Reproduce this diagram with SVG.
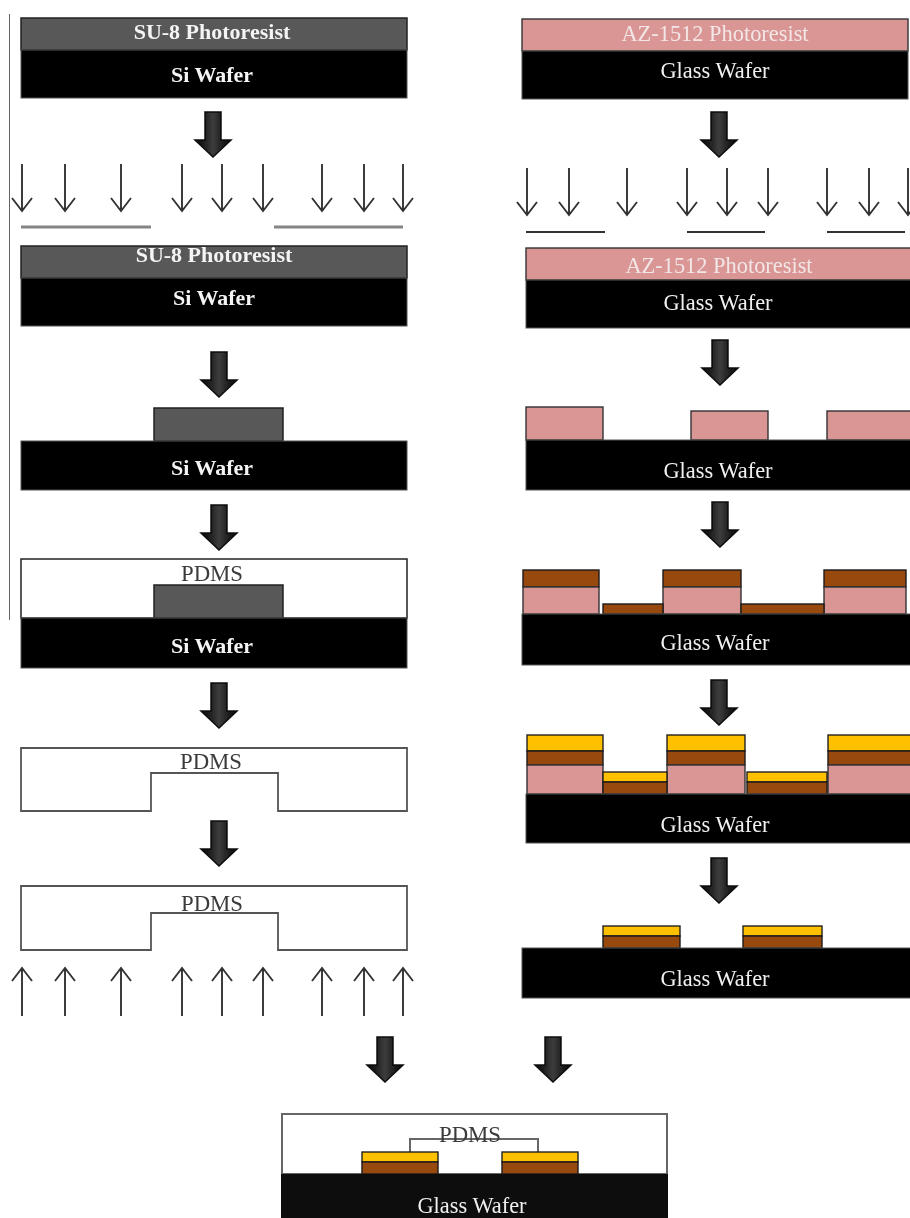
<svg xmlns="http://www.w3.org/2000/svg" xmlns:xlink="http://www.w3.org/1999/xlink" width="910" height="1218" viewBox="0 0 910 1218">
<style>
text{font-family:"Liberation Serif","Times New Roman",serif;font-size:22.4px;text-anchor:middle}
.w{fill:#f4f4f4;font-weight:bold;font-size:22px}
.g{fill:#f0f0f0}
.p{fill:#f2e6e6}
.d{fill:#3a3a3a;font-size:22.8px}
.wafer{fill:#000;stroke:#555;stroke-width:1}
.su8{fill:#595959;stroke:#222;stroke-width:1.5}
.pink{fill:#d99694;stroke:#333;stroke-width:1.4}
.brown{fill:#984807;stroke:#1a1a1a;stroke-width:1.4}
.gold{fill:#ffc000;stroke:#222;stroke-width:1.4}
.pdms{fill:#fff;stroke:#555;stroke-width:1.8}
.mask1{stroke:#858585;stroke-width:3;fill:none}
.mask2{stroke:#333;stroke-width:2;fill:none}
.thin{stroke:#333;stroke-width:1.9;fill:none}
</style>
<defs>
<filter id="soft" x="0" y="0" width="100%" height="100%"><feGaussianBlur stdDeviation="0.5"/></filter>
<linearGradient id="bar" x1="0" x2="1" y1="0" y2="0"><stop offset="0" stop-color="#050505"/><stop offset="0.5" stop-color="#3c3c3c"/><stop offset="1" stop-color="#050505"/></linearGradient>
<path id="big" d="M-8,0H8V28H18L0,45L-18,28H-8Z" fill="url(#bar)" stroke="#0a0a0a" stroke-width="1.5"/>
<path id="dn" class="thin" d="M0,0V47M-10,34L0,47L10,34"/>
<path id="up" class="thin" d="M0,0V-48M-10,-35L0,-48L10,-35"/>
</defs>
<rect width="910" height="1218" fill="#fff"/>
<g filter="url(#soft)">
<path d="M9,14V620" stroke="#333" stroke-width="1.5" fill="none"/>

<g id="connectors">
<use xlink:href="#big" href="#big" x="213" y="112"/>
<use xlink:href="#big" href="#big" x="219" y="352"/>
<use xlink:href="#big" href="#big" x="219" y="505"/>
<use xlink:href="#big" href="#big" x="219" y="683"/>
<use xlink:href="#big" href="#big" x="219" y="821"/>
<use xlink:href="#big" href="#big" x="719" y="112"/>
<use xlink:href="#big" href="#big" x="720" y="340"/>
<use xlink:href="#big" href="#big" x="720" y="502"/>
<use xlink:href="#big" href="#big" x="719" y="680"/>
<use xlink:href="#big" href="#big" x="719" y="858"/>
<use xlink:href="#big" href="#big" x="385" y="1037"/>
<use xlink:href="#big" href="#big" x="553" y="1037"/>
</g>

<g id="uv-left-top">
<use href="#dn" x="22" y="164"/><use href="#dn" x="65" y="164"/><use href="#dn" x="121" y="164"/>
<use href="#dn" x="182" y="164"/><use href="#dn" x="222" y="164"/><use href="#dn" x="263" y="164"/>
<use href="#dn" x="322" y="164"/><use href="#dn" x="364" y="164"/><use href="#dn" x="403" y="164"/>
<path class="mask1" d="M21,227H151M274,227H403"/>
</g>
<g id="uv-right-top">
<use href="#dn" x="527" y="168"/><use href="#dn" x="569" y="168"/><use href="#dn" x="627" y="168"/>
<use href="#dn" x="687" y="168"/><use href="#dn" x="727" y="168"/><use href="#dn" x="768" y="168"/>
<use href="#dn" x="827" y="168"/><use href="#dn" x="869" y="168"/><use href="#dn" x="908" y="168"/>
<path class="mask2" d="M526,232H605M687,232H765M827,232H905"/>
</g>
<g id="uv-left-bottom">
<use href="#up" x="22" y="1016"/><use href="#up" x="65" y="1016"/><use href="#up" x="121" y="1016"/>
<use href="#up" x="182" y="1016"/><use href="#up" x="222" y="1016"/><use href="#up" x="263" y="1016"/>
<use href="#up" x="322" y="1016"/><use href="#up" x="364" y="1016"/><use href="#up" x="403" y="1016"/>
</g>

<g id="L1">
<rect class="su8" x="21" y="18" width="386" height="32"/>
<rect class="wafer" x="21" y="50" width="386" height="48"/>
<text class="w" x="212" y="39">SU-8 Photoresist</text>
<text class="w" x="212" y="82">Si Wafer</text>
</g>
<g id="L2">
<rect class="su8" x="21" y="246" width="386" height="32"/>
<rect class="wafer" x="21" y="278" width="386" height="48"/>
<text class="w" x="214" y="262">SU-8 Photoresist</text>
<text class="w" x="214" y="305">Si Wafer</text>
</g>
<g id="L3">
<rect class="su8" x="154" y="408" width="129" height="33"/>
<rect class="wafer" x="21" y="441" width="386" height="49"/>
<text class="w" x="212" y="475">Si Wafer</text>
</g>
<g id="L4">
<rect x="21" y="559" width="386" height="59" fill="#fff" stroke="#222" stroke-width="1.5"/>
<rect class="su8" x="154" y="585" width="129" height="33"/>
<rect class="wafer" x="21" y="618" width="386" height="50"/>
<text class="d" x="212" y="581">PDMS</text>
<text class="w" x="212" y="653">Si Wafer</text>
</g>
<g id="L5">
<path class="pdms" d="M21,748H407V811H278V773H151V811H21Z"/>
<text class="d" x="211" y="769">PDMS</text>
</g>
<g id="L6">
<path class="pdms" d="M21,886H407V950H278V913H151V950H21Z"/>
<text class="d" x="212" y="911">PDMS</text>
</g>

<g id="R1">
<rect class="pink" x="522" y="19" width="386" height="32"/>
<rect class="wafer" x="522" y="51" width="386" height="48"/>
<text class="p" x="715" y="41">AZ-1512 Photoresist</text>
<text class="g" x="715" y="78">Glass Wafer</text>
</g>
<g id="R2">
<rect class="pink" x="526" y="248" width="386" height="32"/>
<rect class="wafer" x="526" y="280" width="386" height="48"/>
<text class="p" x="719" y="273">AZ-1512 Photoresist</text>
<text class="g" x="718" y="310">Glass Wafer</text>
</g>
<g id="R3">
<rect class="pink" x="526" y="407" width="77" height="33"/>
<rect class="pink" x="691" y="411" width="77" height="29"/>
<rect class="pink" x="827" y="411" width="85" height="29"/>
<rect class="wafer" x="526" y="440" width="386" height="50"/>
<text class="g" x="718" y="478">Glass Wafer</text>
</g>
<g id="R4">
<rect class="brown" x="523" y="570" width="76" height="17"/><rect class="pink" x="523" y="587" width="76" height="27"/>
<rect class="brown" x="663" y="570" width="78" height="17"/><rect class="pink" x="663" y="587" width="78" height="27"/>
<rect class="brown" x="824" y="570" width="82" height="17"/><rect class="pink" x="824" y="587" width="82" height="27"/>
<rect class="brown" x="603" y="604" width="60" height="10"/><rect class="brown" x="741" y="604" width="83" height="10"/>
<rect class="wafer" x="522" y="614" width="390" height="51"/>
<text class="g" x="715" y="650">Glass Wafer</text>
</g>
<g id="R5">
<rect class="gold" x="527" y="735" width="76" height="16"/><rect class="brown" x="527" y="751" width="76" height="14"/><rect class="pink" x="527" y="765" width="76" height="29"/>
<rect class="gold" x="667" y="735" width="78" height="16"/><rect class="brown" x="667" y="751" width="78" height="14"/><rect class="pink" x="667" y="765" width="78" height="29"/>
<rect class="gold" x="828" y="735" width="84" height="16"/><rect class="brown" x="828" y="751" width="84" height="14"/><rect class="pink" x="828" y="765" width="84" height="29"/>
<rect class="gold" x="603" y="772" width="64" height="10"/><rect class="brown" x="603" y="782" width="64" height="12"/>
<rect class="gold" x="747" y="772" width="80" height="10"/><rect class="brown" x="747" y="782" width="80" height="12"/>
<rect class="wafer" x="526" y="794" width="386" height="49"/>
<text class="g" x="715" y="832">Glass Wafer</text>
</g>
<g id="R6">
<rect class="gold" x="603" y="926" width="77" height="10"/><rect class="brown" x="603" y="936" width="77" height="12"/>
<rect class="gold" x="743" y="926" width="79" height="10"/><rect class="brown" x="743" y="936" width="79" height="12"/>
<rect class="wafer" x="522" y="948" width="390" height="50"/>
<text class="g" x="715" y="986">Glass Wafer</text>
</g>

<g id="final">
<rect x="282" y="1114" width="385" height="60" fill="#fff" stroke="#666" stroke-width="2"/>
<path d="M410,1152V1139H538V1152" fill="none" stroke="#666" stroke-width="2"/>
<text class="d" x="470" y="1142">PDMS</text>
<rect class="gold" x="362" y="1152" width="76" height="10"/><rect class="brown" x="362" y="1162" width="76" height="12"/>
<rect class="gold" x="502" y="1152" width="76" height="10"/><rect class="brown" x="502" y="1162" width="76" height="12"/>
<rect x="281" y="1174" width="387" height="46" fill="#0d0d0d"/>
<text class="g" x="472" y="1213">Glass Wafer</text>
</g>
</g>
</svg>
